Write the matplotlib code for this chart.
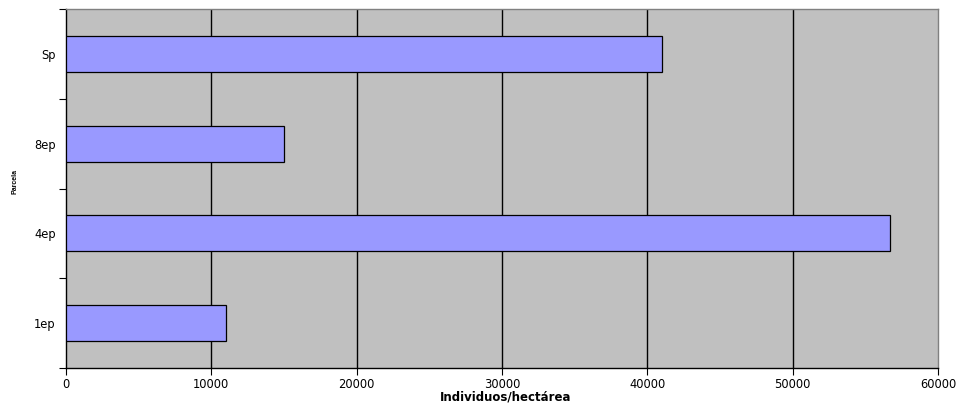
import matplotlib
matplotlib.use("Agg")
import matplotlib.pyplot as plt
import numpy as np

plt.rcParams['font.family'] = ['DejaVu Sans']

categories = ["1ep", "4ep", "8ep", "Sp"]
values = [11000, 56700, 15000, 41000]
x_ticks = [0, 10000, 20000, 30000, 40000, 50000, 60000]

W, H = 958, 409
fig = plt.figure(figsize=(W / 100, H / 100), dpi=100)
ax = fig.add_axes([66 / W, 1 - 368 / H, (938 - 66) / W, (368 - 9) / H])
ax.set_facecolor("#C0C0C0")

pos = np.arange(len(categories))
ax.barh(pos, values, height=0.4, color="#9999FF", edgecolor="black", linewidth=0.9, zorder=3)

ax.set_xlim(0, 60000)
ax.set_ylim(-0.5, len(categories) - 0.5)
ax.set_xticks(x_ticks)
ax.set_xticklabels([str(t) for t in x_ticks], fontsize=8.3)
for t in x_ticks[1:-1]:
    ax.axvline(t, color="black", linewidth=1, zorder=1)

ax.set_yticks(pos)
ax.set_yticklabels(categories, fontsize=8.3)
ax.set_yticks(np.arange(-0.5, len(categories)), minor=True)
ax.tick_params(axis="y", which="major", length=0, pad=7.5)
ax.tick_params(axis="y", which="minor", length=5, width=0.8, direction="out")
ax.tick_params(axis="x", length=5, width=0.8, direction="out", pad=2.5)

for s in ["left", "bottom"]:
    ax.spines[s].set_color("black")
    ax.spines[s].set_linewidth(1)
for s in ["top", "right"]:
    ax.spines[s].set_color("#808080")
    ax.spines[s].set_linewidth(1)

fig.text(506 / W, 1 - 397 / H, "Individuos/hectárea", fontsize=8.5, fontweight="bold",
         ha="center", va="center")
fig.text(15.5 / W, 1 - 182 / H, "Parcela", fontsize=5, fontweight="bold",
         family="Liberation Sans", rotation=90, ha="center", va="center")

fig.savefig("out.png", dpi=100)
